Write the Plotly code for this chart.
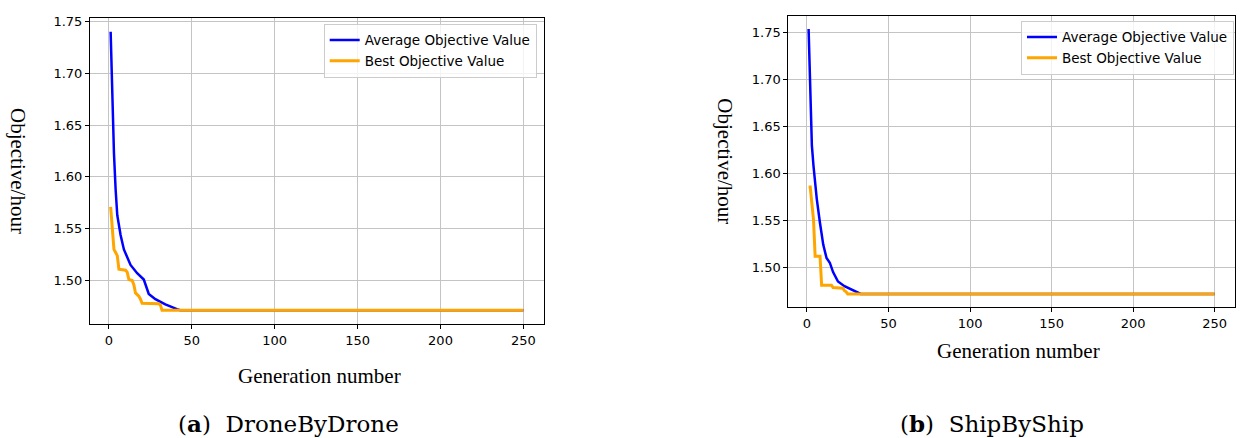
import plotly.graph_objects as go

# ---- Data ----
# (a) DroneByDrone
drone_avg_gen = [1, 2, 3, 4, 5, 7, 9, 13, 17, 21, 24, 28, 34, 41, 43, 250]
drone_avg_val = [1.740, 1.671, 1.623, 1.588, 1.563, 1.544, 1.530, 1.515, 1.507, 1.501,
                 1.487, 1.482, 1.477, 1.4724, 1.4714, 1.4714]
drone_best_gen = [1, 2, 3, 4, 5, 6, 10, 11, 12, 14, 15, 16, 18, 19, 20, 30, 31, 32, 250]
drone_best_val = [1.571, 1.545, 1.530, 1.527, 1.524, 1.511, 1.510, 1.508, 1.501, 1.500,
                  1.496, 1.488, 1.485, 1.482, 1.478, 1.4775, 1.4765, 1.4714, 1.4714]

# (b) ShipByShip
ship_avg_gen = [1, 2, 3, 4, 6, 8, 10, 12, 14, 16, 19, 23, 27, 31, 33, 250]
ship_avg_val = [1.754, 1.675, 1.630, 1.608, 1.573, 1.547, 1.524, 1.510, 1.505, 1.495,
                1.485, 1.480, 1.477, 1.4735, 1.4717, 1.4717]
ship_best_gen = [1, 2, 3, 4, 5, 8, 9, 15, 16, 22, 23, 24, 25, 250]
ship_best_val = [1.5856, 1.5856, 1.568, 1.551, 1.512, 1.512, 1.481, 1.481, 1.4785,
                 1.4778, 1.4752, 1.4740, 1.4717, 1.4717]

x_ticks = [0, 50, 100, 150, 200, 250]
y_ticks = [1.50, 1.55, 1.60, 1.65, 1.70, 1.75]
series_names = ["Average Objective Value", "Best Objective Value"]
captions = ["(<b>a</b>)  DroneByDrone", "(<b>b</b>)  ShipByShip"]
x_title = "Generation number"
y_title = "Objective/hour"

W, H = 1241, 438
BLUE = "#0000ff"
ORANGE = "#ffa500"

fig = go.Figure()

fig.add_trace(go.Scatter(x=drone_avg_gen, y=drone_avg_val, mode="lines", name=series_names[0],
                         line=dict(color=BLUE, width=2.5), xaxis="x", yaxis="y", legend="legend"))
fig.add_trace(go.Scatter(x=drone_best_gen, y=drone_best_val, mode="lines", name=series_names[1],
                         line=dict(color=ORANGE, width=3), xaxis="x", yaxis="y", legend="legend"))
fig.add_trace(go.Scatter(x=ship_avg_gen, y=ship_avg_val, mode="lines", name=series_names[0],
                         line=dict(color=BLUE, width=2.5), xaxis="x2", yaxis="y2", legend="legend2"))
fig.add_trace(go.Scatter(x=ship_best_gen, y=ship_best_val, mode="lines", name=series_names[1],
                         line=dict(color=ORANGE, width=3), xaxis="x2", yaxis="y2", legend="legend2"))

tick_font = dict(family="DejaVu Sans", size=13, color="#000000")
common_axis = dict(showline=True, linecolor="#000000", linewidth=1, mirror=True,
                   ticks="outside", ticklen=4, tickwidth=1, tickcolor="#000000",
                   showgrid=True, gridcolor="#c4c4c4", gridwidth=1, zeroline=False,
                   tickfont=tick_font)

def px_x(p):
    return p / W

def px_y(p):
    return 1 - p / H

fig.update_layout(
    width=W, height=H, autosize=False,
    margin=dict(l=0, r=0, t=0, b=0),
    paper_bgcolor="white", plot_bgcolor="white",
    xaxis=dict(domain=[px_x(90), px_x(544)], range=[-11.45, 262.45], tickvals=x_ticks,
               anchor="y", **common_axis),
    yaxis=dict(domain=[px_y(323), px_y(14)], range=[1.4580, 1.7534], tickvals=y_ticks,
               tickformat=".2f", anchor="x", **common_axis),
    xaxis2=dict(domain=[px_x(788.3), px_x(1235)], range=[-11.45, 262.45], tickvals=x_ticks,
                anchor="y2", **common_axis),
    yaxis2=dict(domain=[px_y(306), px_y(11.7)], range=[1.4576, 1.7682], tickvals=y_ticks,
                tickformat=".2f", anchor="x2", **common_axis),
    legend=dict(x=px_x(536.7), y=px_y(20), xanchor="right", yanchor="top",
                bgcolor="rgba(255,255,255,0.8)", bordercolor="#cccccc", borderwidth=1,
                font=dict(family="DejaVu Sans", size=13.5, color="#000000"),
                tracegroupgap=0),
    legend2=dict(x=px_x(1234), y=px_y(17), xanchor="right", yanchor="top",
                 bgcolor="rgba(255,255,255,0.8)", bordercolor="#cccccc", borderwidth=1,
                 font=dict(family="DejaVu Sans", size=13.5, color="#000000"),
                 tracegroupgap=0),
)

title_font = dict(family="Liberation Serif", size=21, color="#000000")
annotations = [
    dict(text=x_title, x=px_x(320), y=px_y(375), xref="paper", yref="paper",
         showarrow=False, font=title_font, xanchor="center", yanchor="middle"),
    dict(text=x_title, x=px_x(1019), y=px_y(350), xref="paper", yref="paper",
         showarrow=False, font=title_font, xanchor="center", yanchor="middle"),
    dict(text=y_title, x=px_x(18), y=px_y(168.5), xref="paper", yref="paper",
         showarrow=False, font=title_font, textangle=90, xanchor="center", yanchor="middle"),
    dict(text=y_title, x=px_x(725), y=px_y(158.8), xref="paper", yref="paper",
         showarrow=False, font=title_font, textangle=90, xanchor="center", yanchor="middle"),
    dict(text=captions[0], x=px_x(288.7), y=px_y(423), xref="paper", yref="paper",
         showarrow=False, font=dict(family="DejaVu Serif", size=23, color="#000000"),
         xanchor="center", yanchor="middle"),
    dict(text=captions[1], x=px_x(992), y=px_y(423), xref="paper", yref="paper",
         showarrow=False, font=dict(family="DejaVu Serif", size=23, color="#000000"),
         xanchor="center", yanchor="middle"),
]
fig.update_layout(annotations=annotations)

fig.write_html("out.html")
